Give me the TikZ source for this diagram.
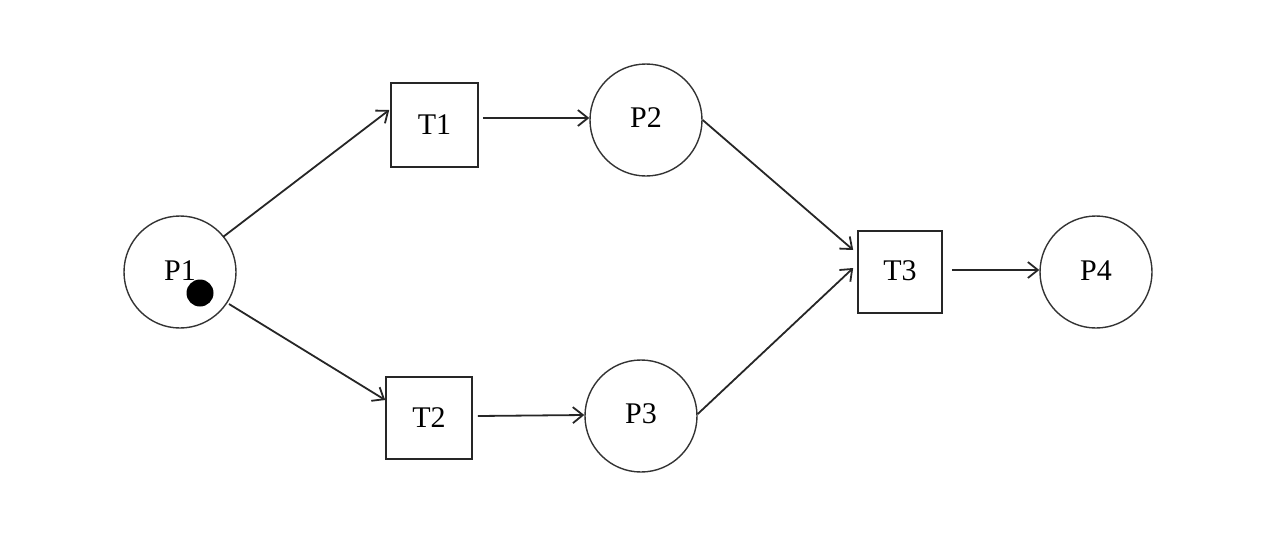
\documentclass[tikz,border=0pt]{standalone}
\usepackage{fontspec}
\setmainfont{Liberation Serif}
\usetikzlibrary{arrows.meta}
\begin{document}
\begin{tikzpicture}[x=1pt,y=-1pt,
  place/.style={circle,draw=black!80,line width=1.4pt,minimum size=112pt,inner sep=0pt,font=\fontsize{30}{31}\selectfont},
  trans/.style={rectangle,draw=black!85,line width=1.6pt,inner sep=0pt,font=\fontsize{30}{31}\selectfont},
  arc/.style={draw=black!85,line width=1.8pt,-{Straight Barb[length=10pt,width=16pt,line width=1.8pt]}},
  token/.style={circle,fill=black,minimum size=27pt,inner sep=0pt}]
\useasboundingbox (0,0) rectangle (1284,544);
\node[place] (P1) at (180,272) {\raisebox{3pt}{P1}\hspace{16pt}};
\node[token] (tok) at (200,293) {};
\node[trans,minimum width=87pt,minimum height=84pt] (T1) at (434.5,125) {T1};
\node[place] (P2) at (646,120) {\raisebox{4pt}{P2}};
\node[trans,minimum width=86pt,minimum height=82pt] (T2) at (429,418) {T2};
\node[place] (P3) at (641,416) {\raisebox{4pt}{P3}};
\node[trans,minimum width=84pt,minimum height=82pt] (T3) at (900,272) {\raisebox{2pt}{T3}};
\node[place] (P4) at (1096,272) {\raisebox{3pt}{P4}};
\coordinate (a1) at ([xshift=-1pt,yshift=15pt]T1.west);
\coordinate (a2) at ([yshift=18pt]T2.west);
\coordinate (a3) at ([xshift=-4pt,yshift=22pt]T3.west);
\coordinate (a4) at ([xshift=-4pt,yshift=4pt]T3.west);
\draw[arc] (P1) ++(43,-35) -- (a1);
\draw[arc] (P1) ++(49,32) -- (a2);
\draw[arc] ([xshift=4pt,yshift=7pt]T1.east) -- ([yshift=2pt]P2.west);
\draw[arc] ([xshift=5pt,yshift=2pt]T2.east) -- ([yshift=1pt]P3.west);
\draw[arc] ([yshift=0pt]P2.east) -- (a3);
\draw[arc] ([xshift=0pt,yshift=2pt]P3.east) -- (a4);
\draw[arc] ([xshift=9pt,yshift=2pt]T3.east) -- ([yshift=2pt]P4.west);
\end{tikzpicture}
\end{document}
